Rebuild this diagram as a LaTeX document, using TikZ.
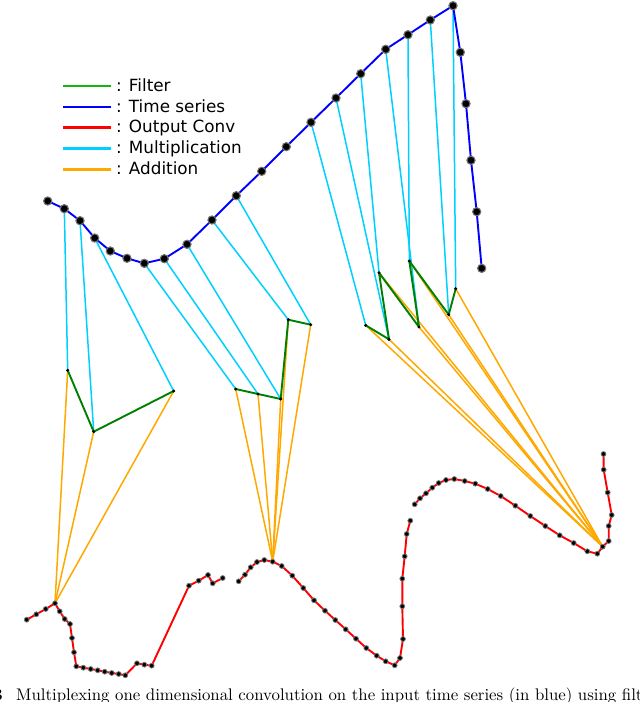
\documentclass[tikz,border=0pt]{standalone}
\usepackage{fontspec}
\newfontfamily\legfont{DejaVu Sans}
\newfontfamily\capfont{lmroman10-regular}[Extension=.otf,BoldFont=lmroman10-bold]
\definecolor{tsblue}{RGB}{0,0,255}
\definecolor{mulcyan}{RGB}{0,208,255}
\definecolor{addorange}{RGB}{255,168,0}
\definecolor{filtgreen}{RGB}{0,128,0}
\definecolor{leggreen}{RGB}{20,180,20}
\definecolor{outred}{RGB}{255,0,0}
\begin{document}
\begin{tikzpicture}[x=1pt,y=-1pt,
  tsline/.style={draw=tsblue,line width=1.9pt,line join=round},
  mulline/.style={draw=mulcyan,line width=1.5pt},
  addline/.style={draw=addorange,line width=1.5pt},
  filtline/.style={draw=filtgreen,line width=1.9pt,line join=round},
  outline/.style={draw=outred,line width=1.9pt,line join=round},
  tsdot/.style={fill=black,draw=black!55,line width=1.1pt},
  outdot/.style={fill=black,draw=black!55,line width=0.8pt},
  fdot/.style={fill=black},
  legline/.style={line width=2.6pt},
  legtext/.style={anchor=base west,inner sep=0pt,font=\legfont\fontsize{16.8}{20}\selectfont},
  captext/.style={anchor=base west,inner sep=0pt,font=\capfont\fontsize{16.8}{20}\selectfont}]
\path[use as bounding box] (0,0) rectangle (640,702);

% ---------- coordinates ----------
\foreach \n/\x/\y in {1/47.7/201,2/64.3/208.7,3/80/220.7,4/94.7/238,5/110.3/251,
  6/127/258.3,7/144.3/263.3,8/164.3/258.7,9/187/244.3,10/212/220,11/236.3/195.7,
  12/261.7/171.3,13/286.3/146.7,14/311/122.3,15/336/98,16/360.7/73.7,17/385.7/49.3,
  18/408/34.7,19/430.3/20,20/453/5.7,21/460.3/52.3,22/466/103.7,23/471/160.3,
  24/476.7/211.7,25/481.7/268.3}
  \coordinate (b\n) at (\x,\y);

\foreach \n/\x/\y in {1/67.7/370.3,2/93.7/431.7,3/173.7/391}
  \coordinate (a\n) at (\x,\y);
\foreach \n/\x/\y in {1/235.7/389,2/258/394,3/280.7/399,4/288.3/319.7,5/310.7/324.7}
  \coordinate (f\n) at (\x,\y);
\foreach \n/\x/\y in {1/365.7/325.3,2/389/339.3,3/379/272.7,4/419/327,5/409.3/261,
  6/448.7/314.7,7/455.7/288.7}
  \coordinate (c\n) at (\x,\y);

\foreach \n/\x/\y in {1/26.7/619.7,2/36.3/614.3,3/45.7/609,4/55/603.3,5/59.7/611.3,
  6/64.7/619,7/70/624,8/72/638,9/74/652.3,10/76.3/666.3,11/83.3/667.7,12/90.7/669,
  13/97.7/670.3,14/104.7/671.7,15/111.7/673,16/118.7/674,17/125.3/675.3,18/137/663.3,
  19/144.3/664.7,20/151.7/665.7,21/189/585.7,22/198.7/580.7,23/208/575,24/212.7/583.3,
  25/222.7/578,
  26/238.7/581.3,27/245/574.7,28/250.7/567.3,29/257/562,30/264.3/560,31/272.7/561.7,
  32/281.7/566,33/292.3/575.7,34/303.3/588,35/314/600.3,36/325/610.7,37/335.3/620,
  38/345.7/629.3,39/356/638.7,40/366.3/648,41/376.7/655.7,42/385.7/661.3,43/394.7/665.3,
  44/400/658,45/403/639,46/402.3/606.3,47/402.3/578.7,48/404.7/556.3,49/406.7/534,
  50/410.3/520.7,
  51/414.7/504.3,52/420/498.3,53/426/493.3,54/432.3/487.7,55/438.7/483,56/446/480,
  57/454.3/479,58/464.7/481,59/475.3/483.7,60/487.7/489,61/500.7/496,62/515.3/505.7,
  63/530.3/516,64/545.3/526,65/559.7/535.3,66/573.7/543,67/587.3/551.3,68/597.3/553.7,
  69/602.7/546.7,70/608.7/541,71/608.7/526,72/611.7/515,73/607.7/492.5,74/603.7/469.7,
  75/603.5/454}
  \coordinate (r\n) at (\x,\y);

% ---------- output series (red) ----------
\draw[outline] (r1) \foreach \i in {2,...,25} {-- (r\i)};
\draw[outline] (r26) \foreach \i in {27,...,50} {-- (r\i)};
\draw[outline] (r51) \foreach \i in {52,...,75} {-- (r\i)};

% ---------- multiplication (cyan) ----------
\foreach \i/\j in {2/1,3/2,4/3} \draw[mulline] (b\i) -- (a\j);
\foreach \i/\j in {7/1,8/2,9/3,10/4,11/5} \draw[mulline] (b\i) -- (f\j);
\foreach \i/\j in {14/1,15/2,16/3,17/4,18/5,19/6,20/7} \draw[mulline] (b\i) -- (c\j);

% ---------- addition (orange) ----------
\foreach \j in {1,2,3} \draw[addline] (a\j) -- (r4);
\foreach \j in {1,...,5} \draw[addline] (f\j) -- (r31);
\foreach \j in {1,...,7} \draw[addline] (c\j) -- (r69);

% ---------- filters (green) ----------
\draw[filtline] (a1) -- (a2) -- (a3);
\draw[filtline] (f1) -- (f2) -- (f3) -- (f4) -- (f5);
\draw[filtline] (c1) -- (c2) -- (c3) -- (c4) -- (c5) -- (c6) -- (c7);
\foreach \j in {1,2,3} \fill[fdot] (a\j) circle (1.7);
\foreach \j in {1,...,5} \fill[fdot] (f\j) circle (1.7);
\foreach \j in {1,...,7} \fill[fdot] (c\j) circle (1.7);

% ---------- time series (blue) ----------
\draw[tsline] (b1) \foreach \i in {2,...,25} {-- (b\i)};
\foreach \i in {1,...,25} \filldraw[tsdot] (b\i) circle (4.1);

\foreach \i in {1,...,75} \filldraw[outdot] (r\i) circle (2.4);

% ---------- legend ----------
\coordinate (l1a) at (63,86);  \coordinate (l1b) at (111,86);
\coordinate (l2a) at (63,107); \coordinate (l2b) at (111,107);
\coordinate (l3a) at (63,127.7); \coordinate (l3b) at (111,127.7);
\coordinate (l4a) at (63,148.7); \coordinate (l4b) at (111,148.7);
\coordinate (l5a) at (63,169.3); \coordinate (l5b) at (111,169.3);
\draw[legline,draw=leggreen] (l1a) -- (l1b);
\draw[legline,draw=tsblue] (l2a) -- (l2b);
\draw[legline,draw=outred] (l3a) -- (l3b);
\draw[legline,draw=mulcyan] (l4a) -- (l4b);
\draw[legline,draw=addorange] (l5a) -- (l5b);
\node[legtext] (t1) at (116,91) {: Filter};
\node[legtext] (t2) at (116,112) {: Time series};
\node[legtext] (t3) at (116,132.7) {: Output Conv};
\node[legtext] (t4) at (116,153.7) {: Multiplication};
\node[legtext] (t5) at (116,174.3) {: Addition};

% ---------- caption ----------
\node[captext,anchor=base east] (capn) at (3,700) {\bfseries 3};
\node[captext] (cap) at (16,700) {Multiplexing one dimensional convolution on the input time series (in blue) using filt};
\end{tikzpicture}
\end{document}
